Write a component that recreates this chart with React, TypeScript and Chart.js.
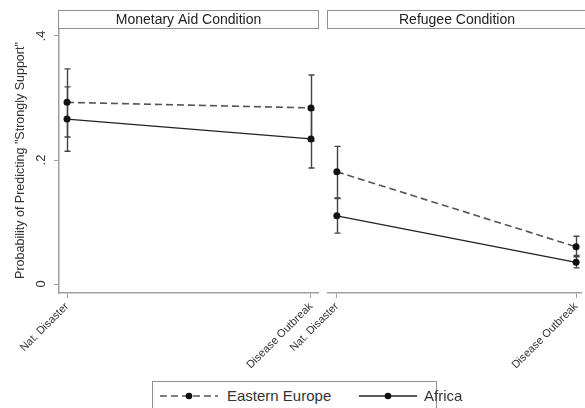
import React, { useEffect, useRef } from "react";
import { Chart, registerables } from "chart.js";

Chart.register(...registerables);

const categories = ["Nat. Disaster", "Disease Outbreak"];
const panelTitles = ["Monetary Aid Condition", "Refugee Condition"];
const seriesNames = ["Eastern Europe", "Africa"];
const yTicks = [0, 0.2, 0.4];
const yTickLabels = ["0", ".2", ".4"];
const yTitle = 'Probability of Predicting "Strongly Support"';

// Monetary Aid panel
const monEE = [0.293, 0.284];
const monEELow = [0.237, 0.231];
const monEEHigh = [0.347, 0.337];
const monAF = [0.266, 0.234];
const monAFLow = [0.214, 0.187];
const monAFHigh = [0.318, 0.281];

// Refugee panel
const refEE = [0.181, 0.06];
const refEELow = [0.139, 0.044];
const refEEHigh = [0.222, 0.077];
const refAF = [0.11, 0.035];
const refAFLow = [0.082, 0.026];
const refAFHigh = [0.138, 0.046];

const FONT = "'Liberation Sans', Arial, sans-serif";
const AXIS_GRAY = "#a0a0a0";
const TEXT = "#333333";

const errorBarPlugin = {
  id: "errorBars",
  beforeDatasetsDraw(chart: any, _args: any, opts: any) {
    const ctx = chart.ctx;
    const xs = chart.scales.x;
    const ys = chart.scales.y;
    ctx.save();
    ctx.strokeStyle = "#444444";
    ctx.lineWidth = 1.4;
    (opts.series || []).forEach((s: any) => {
      s.lower.forEach((lo: number, i: number) => {
        const px = Math.round(xs.getPixelForValue(i)) + 0.5;
        const yl = ys.getPixelForValue(lo);
        const yh = ys.getPixelForValue(s.upper[i]);
        ctx.beginPath();
        ctx.moveTo(px, yl);
        ctx.lineTo(px, yh);
        ctx.moveTo(px - 3, yl);
        ctx.lineTo(px + 3, yl);
        ctx.moveTo(px - 3, yh);
        ctx.lineTo(px + 3, yh);
        ctx.stroke();
      });
    });
    ctx.restore();
  },
};

const headerPlugin = {
  id: "panelHeader",
  afterDraw(chart: any, _args: any, opts: any) {
    const ctx = chart.ctx;
    const a = chart.chartArea;
    const left = Math.round(a.left) - 0.5;
    const right = opts.open ? chart.width + 5 : Math.round(a.right) + 0.5;
    ctx.save();
    ctx.fillStyle = "#ffffff";
    ctx.strokeStyle = "#909090";
    ctx.lineWidth = 1;
    ctx.fillRect(left, 10.5, right - left, 18);
    ctx.strokeRect(left, 10.5, right - left, 18);
    ctx.fillStyle = "#222222";
    ctx.font = `14px ${FONT}`;
    ctx.textAlign = "center";
    ctx.textBaseline = "middle";
    const cx = opts.open ? (a.left + a.right + 5) / 2 : (a.left + a.right) / 2;
    ctx.fillText(opts.text, cx, 20);
    ctx.restore();
  },
};

function makeConfig(
  ee: number[], eeLow: number[], eeHigh: number[],
  af: number[], afLow: number[], afHigh: number[],
  title: string, showY: boolean, xMin: number, xMax: number, padLeft: number, open: boolean
): any {
  return {
    type: "line",
    data: {
      datasets: [
        {
          label: seriesNames[0],
          data: ee.map((v, i) => ({ x: i, y: v })),
          borderColor: "#555555",
          borderWidth: 1.6,
          borderDash: [7, 4],
          pointRadius: 3.5,
          pointBackgroundColor: "#111111",
          pointBorderColor: "#111111",
          pointBorderWidth: 0,
          fill: false,
        },
        {
          label: seriesNames[1],
          data: af.map((v, i) => ({ x: i, y: v })),
          borderColor: "#222222",
          borderWidth: 1.3,
          pointRadius: 3.5,
          pointBackgroundColor: "#111111",
          pointBorderColor: "#111111",
          pointBorderWidth: 0,
          fill: false,
        },
      ],
    },
    options: {
      responsive: false,
      animation: false,
      layout: { padding: { top: 28, left: padLeft, right: 0, bottom: 0 } },
      plugins: {
        legend: { display: false },
        tooltip: { enabled: false },
        errorBars: {
          series: [
            { lower: eeLow, upper: eeHigh },
            { lower: afLow, upper: afHigh },
          ],
        },
        panelHeader: { text: title, open },
      },
      scales: {
        x: {
          type: "linear",
          min: xMin,
          max: xMax,
          afterBuildTicks: (s: any) => {
            s.ticks = categories.map((_c, i) => ({ value: i }));
          },
          afterFit: (s: any) => {
            s.height = 82;
            s.paddingLeft = 0;
            s.paddingRight = 0;
          },
          grid: {
            drawOnChartArea: false,
            drawTicks: true,
            tickLength: 5,
            color: AXIS_GRAY,
          },
          border: { display: true, color: AXIS_GRAY, width: 1.5 },
          ticks: {
            autoSkip: false,
            minRotation: 45,
            maxRotation: 45,
            padding: 2,
            color: TEXT,
            font: { family: FONT, size: 11 },
            callback: (v: any) => categories[v] ?? "",
          },
        },
        y: {
          display: showY,
          min: -0.0145,
          max: 0.4129,
          afterBuildTicks: (s: any) => {
            s.ticks = yTicks.map((v) => ({ value: v }));
          },
          afterFit: (s: any) => {
            s.width = showY ? 59 : 0;
          },
          grid: {
            drawOnChartArea: false,
            drawTicks: true,
            tickLength: 5,
            color: AXIS_GRAY,
          },
          border: { display: true, color: AXIS_GRAY, width: 1.5 },
          ticks: {
            minRotation: 90,
            maxRotation: 90,
            crossAlign: "center",
            padding: 7,
            color: TEXT,
            font: { family: FONT, size: 13 },
            callback: (v: any) => {
              const idx = yTicks.indexOf(v);
              return idx >= 0 ? yTickLabels[idx] : "";
            },
          },
          title: {
            display: true,
            text: yTitle,
            color: TEXT,
            font: { family: FONT, size: 12.5 },
            padding: { top: 13, bottom: 0 },
          },
        },
      },
    },
    plugins: [errorBarPlugin, headerPlugin],
  };
}

export default function App() {
  const leftRef = useRef<HTMLCanvasElement>(null);
  const rightRef = useRef<HTMLCanvasElement>(null);

  useEffect(() => {
    const c1 = new Chart(
      leftRef.current!,
      makeConfig(monEE, monEELow, monEEHigh, monAF, monAFLow, monAFHigh,
        panelTitles[0], true, -8 / 243, 1 + 7 / 243, 0, false)
    );
    const c2 = new Chart(
      rightRef.current!,
      makeConfig(refEE, refEELow, refEEHigh, refAF, refAFLow, refAFHigh,
        panelTitles[1], false, -9 / 243, 1 + 5 / 243, 58, true)
    );
    return () => {
      c1.destroy();
      c2.destroy();
    };
  }, []);

  const dashed = (
    <svg width="60" height="10" style={{ position: "absolute", left: 6, top: 9 }}>
      <line x1="1" y1="5" x2="59" y2="5" stroke="#555" strokeWidth="1.5" strokeDasharray="7 4" />
      <circle cx="30" cy="5" r="3.3" fill="#111" />
    </svg>
  );
  const solid = (
    <svg width="60" height="10" style={{ position: "absolute", left: 205, top: 9 }}>
      <line x1="1" y1="5" x2="59" y2="5" stroke="#222" strokeWidth="1.3" />
      <circle cx="30" cy="5" r="3.3" fill="#111" />
    </svg>
  );

  return (
    <div style={{ position: "absolute", left: 0, top: 0, width: 585, height: 408, overflow: "hidden", background: "#fff" }}>
      <canvas ref={leftRef} width={322} height={375} style={{ position: "absolute", left: 0, top: 0 }} />
      <canvas ref={rightRef} width={315} height={375} style={{ position: "absolute", left: 270, top: 0 }} />
      <div
        style={{
          position: "absolute",
          left: 152,
          top: 381,
          width: 285,
          height: 32,
          border: "1px solid #909090",
          boxSizing: "border-box",
          fontFamily: FONT,
          fontSize: 15,
          color: "#333",
        }}
      >
        {dashed}
        <span style={{ position: "absolute", left: 74, top: 5, whiteSpace: "nowrap" }}>{seriesNames[0]}</span>
        {solid}
        <span style={{ position: "absolute", left: 271, top: 5, whiteSpace: "nowrap" }}>{seriesNames[1]}</span>
      </div>
    </div>
  );
}
